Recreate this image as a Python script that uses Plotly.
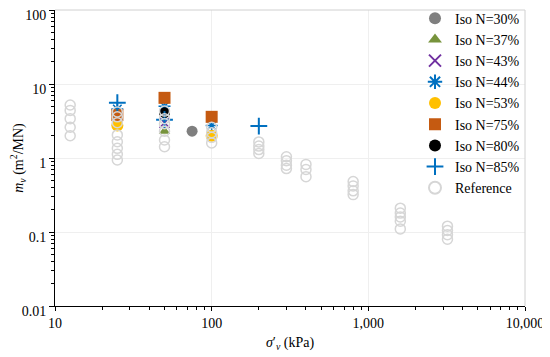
import plotly.graph_objects as go

# ---- data ----
iso30_x = [75];            iso30_y = [2.3]
iso37_x = [25, 50];        iso37_y = [3.0, 2.3]
iso43_x = [25, 50];        iso43_y = [3.5, 3.0]
iso44_x = [25, 50, 100];   iso44_y = [4.6, 5.0, 2.75]
iso53_x = [25, 100];       iso53_y = [2.75, 2.0]
iso75_x = [25, 50, 100];   iso75_y = [3.8, 6.5, 3.6]
iso80_x = [50];            iso80_y = [4.1]
iso85_x = [25, 50, 200];   iso85_y = [5.6, 3.3, 2.7]

ref_x = ([12.5] * 5 + [25] * 8 + [50] * 6 + [100] * 4 + [200] * 4 +
         [300] * 4 + [400] * 3 + [800] * 4 + [1600] * 5 + [3200] * 4)
ref_y = ([5.2, 4.4, 3.4, 2.6, 2.0] +
         [4.2, 3.6, 3.0, 2.05, 1.66, 1.35, 1.12, 0.94] +
         [4.3, 3.4, 2.9, 2.3, 1.75, 1.42] +
         [2.6, 2.2, 1.9, 1.6] +
         [1.65, 1.45, 1.3, 1.15] +
         [1.04, 0.92, 0.80, 0.72] +
         [0.82, 0.70, 0.56] +
         [0.48, 0.42, 0.36, 0.32] +
         [0.21, 0.18, 0.16, 0.14, 0.11] +
         [0.12, 0.105, 0.092, 0.08])

x_tickvals = [10, 100, 1000, 10000]
x_ticktext = ["10", "100", "1,000", "10,000"]
y_tickvals = [0.01, 0.1, 1, 10, 100]
y_ticktext = ["0.01", "0.1", "1", "10", "100"]

FONT = "Liberation Serif, Times New Roman, serif"

fig = go.Figure()

def add(name, xs, ys, marker):
    fig.add_trace(go.Scatter(x=xs, y=ys, mode="markers", name=name, marker=marker))

add("Iso N=30%", iso30_x, iso30_y, dict(symbol="circle", size=11, color="#7f7f7f"))
add("Iso N=37%", iso37_x, iso37_y, dict(symbol="triangle-up", size=10, color="#77933c"))
add("Iso N=43%", iso43_x, iso43_y, dict(symbol="x-thin-open", size=10, color="#7030a0",
                                         line=dict(width=1.5, color="#7030a0")))
add("Iso N=44%", iso44_x, iso44_y, dict(symbol="asterisk-open", size=10, color="#0070c0",
                                         line=dict(width=1.5, color="#0070c0")))
add("Iso N=53%", iso53_x, iso53_y, dict(symbol="circle", size=12, color="#ffc000"))
add("Iso N=75%", iso75_x, iso75_y, dict(symbol="square", size=12, color="#c55a11"))
add("Iso N=80%", iso80_x, iso80_y, dict(symbol="circle", size=11, color="#000000"))
add("Iso N=85%", iso85_x, iso85_y, dict(symbol="cross-thin-open", size=12, color="#0070c0",
                                         line=dict(width=2, color="#0070c0")))
add("Reference", ref_x, ref_y, dict(symbol="circle-open", size=10, color="#d6d6d6",
                                     line=dict(width=1.5, color="#d6d6d6")))

# page body has an 8px margin, so the figure is drawn 8px right/down
fig.update_layout(
    width=542, height=349,
    margin=dict(l=47, r=25, t=2, b=51, autoexpand=False),
    paper_bgcolor="white", plot_bgcolor="white",
    font=dict(family=FONT, size=14, color="black"),
    showlegend=True,
    legend=dict(x=1.0, y=1.025, xanchor="right", yanchor="top",
                bgcolor="rgba(0,0,0,0)", font=dict(family=FONT, size=14),
                itemsizing="constant", tracegroupgap=0, maxheight=1,
                itemwidth=30, borderwidth=0),
    xaxis=dict(type="log", range=[1, 4], tickvals=x_tickvals, ticktext=x_ticktext,
               showline=True, linecolor="black", linewidth=1, automargin=False,
               ticks="outside", ticklen=4, tickcolor="black", ticklabeloverflow="allow",
               tickfont=dict(family=FONT, size=14),
               minor=dict(ticks="outside", ticklen=3, tickcolor="black",
                          dtick="D1", showgrid=False),
               showgrid=True, gridcolor="#efefef", zeroline=False,
               title=dict(text="<i>σ</i>′<sub><i>v</i></sub> (kPa)", standoff=7,
                          font=dict(family=FONT, size=14))),
    yaxis=dict(type="log", range=[-2, 2], tickvals=y_tickvals, ticktext=y_ticktext,
               showline=True, linecolor="black", linewidth=1, automargin=False,
               ticks="outside", ticklen=5, tickcolor="black", ticklabelshift=5,
               ticklabeloverflow="allow",
               tickfont=dict(family=FONT, size=14),
               minor=dict(ticks="outside", ticklen=3, tickcolor="black",
                          dtick="D1", showgrid=False),
               showgrid=True, gridcolor="#efefef", zeroline=False,
               title=dict(text="<i>m</i><sub><i>v</i></sub> (m<sup>2</sup>/MN)",
                          font=dict(family=FONT, size=14))),
    shapes=[
        dict(type="line", xref="paper", yref="paper", x0=0, x1=1, y0=1, y1=1,
             line=dict(color="#d0d0d0", width=1)),
        dict(type="line", xref="paper", yref="paper", x0=1, x1=1, y0=0, y1=1,
             line=dict(color="#d0d0d0", width=1)),
    ],
)

fig.write_html("out.html")
